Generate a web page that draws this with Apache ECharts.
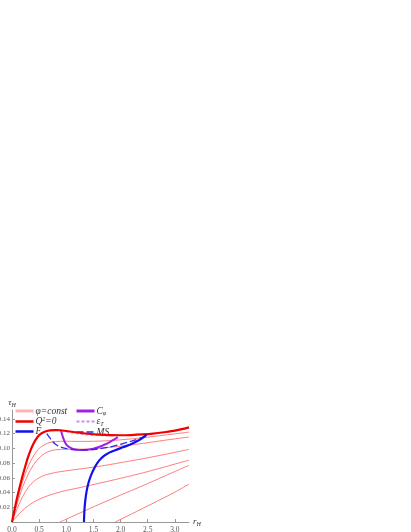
<!DOCTYPE html>
<html>
<head>
<meta charset="utf-8">
<script src="https://cdn.jsdelivr.net/npm/echarts@6/dist/echarts.min.js"></script>
<style>html,body{margin:0;padding:0;background:#fff}#c{width:411px;height:532px}</style>
</head>
<body>
<div id="c"></div>
<script>
// ---- data ----
const xTicks = [0, 0.5, 1.0, 1.5, 2.0, 2.5, 3.0];
const yTicks = [0.02, 0.04, 0.06, 0.08, 0.10, 0.12, 0.14];

const q2zero = [[0,0],[0.05,0.018],[0.1,0.035],[0.15,0.05],[0.2,0.064],[0.25,0.077],[0.3,0.089],[0.35,0.099],[0.4,0.107],[0.45,0.113],[0.5,0.118],[0.6,0.1225],[0.7,0.1243],[0.8,0.1248],[0.9,0.1245],[1.0,0.1235],[1.2,0.1215],[1.4,0.1198],[1.6,0.1185],[1.8,0.1178],[2.0,0.1177],[2.2,0.118],[2.4,0.1188],[2.6,0.12],[2.8,0.1218],[3.0,0.124],[3.26,0.1285]];

const phi1 = [[0,0],[0.1,0.03],[0.2,0.056],[0.3,0.076],[0.4,0.09],[0.5,0.1],[0.6,0.105],[0.7,0.108],[0.8,0.1092],[1.0,0.1096],[1.2,0.1094],[1.4,0.1094],[1.6,0.1098],[1.8,0.1105],[2.0,0.1115],[2.4,0.1143],[2.8,0.1178],[3.26,0.122]];
const phi2 = [[0,0],[0.1,0.026],[0.2,0.048],[0.3,0.065],[0.4,0.078],[0.5,0.087],[0.6,0.093],[0.7,0.0963],[0.8,0.098],[1.0,0.0988],[1.2,0.0988],[1.4,0.0991],[1.6,0.1],[1.8,0.1013],[2.0,0.103],[2.4,0.1066],[2.8,0.1108],[3.26,0.1154]];
const phi3 = [[0,0],[0.1,0.019],[0.2,0.035],[0.3,0.047],[0.4,0.055],[0.5,0.06],[0.6,0.0635],[0.8,0.0672],[1.0,0.0695],[1.2,0.0715],[1.6,0.0755],[2.0,0.0805],[2.4,0.0858],[2.8,0.0915],[3.26,0.0985]];
const phi4 = [[0,0],[0.2,0.016],[0.4,0.027],[0.6,0.034],[0.8,0.039],[1.0,0.0428],[1.3,0.0475],[1.6,0.0525],[2.0,0.0593],[2.4,0.0665],[2.8,0.0745],[3.26,0.084]];
const phi5 = [[0.88,0],[1.0,0.0039],[1.2,0.0105],[1.44,0.0185],[1.6,0.0238],[2.0,0.0365],[2.4,0.049],[2.8,0.062],[3.26,0.077]];
const phi6 = [[1.9,0],[2.0,0.0036],[2.2,0.0108],[2.6,0.0255],[3.0,0.0405],[3.26,0.0515]];

const fCurve = [[1.325,0],[1.328,0.006],[1.333,0.015],[1.344,0.025],[1.36,0.035],[1.385,0.046],[1.42,0.056],[1.47,0.066],[1.53,0.075],[1.6,0.083],[1.7,0.09],[1.8,0.0945],[1.9,0.0975],[2.0,0.1003],[2.1,0.103],[2.2,0.106],[2.3,0.1095],[2.4,0.1138],[2.48,0.1186]];
const cPhi = [[0.9,0.1245],[0.93,0.117],[0.97,0.109],[1.02,0.1035],[1.1,0.1],[1.2,0.0982],[1.3,0.0976],[1.4,0.0982],[1.5,0.0996],[1.6,0.1018],[1.7,0.1048],[1.8,0.1085],[1.9,0.1128],[1.95,0.1152]];
const epsT = [[0.9,0.1238],[1.0,0.1225],[1.1,0.1208],[1.3,0.1188],[1.5,0.1176],[1.7,0.117],[1.9,0.1168]];
const msCurve = [[0.64,0.12],[0.72,0.112],[0.8,0.1055],[0.9,0.1015],[1.0,0.0995],[1.2,0.0978],[1.4,0.0978],[1.6,0.0993],[1.8,0.1018],[2.0,0.1055],[2.2,0.1098],[2.4,0.1148],[2.48,0.1186]];

const phiSets = [phi1, phi2, phi3, phi4, phi5, phi6];

// ---- styles ----
const PHI_COLOR = '#ff6e6e';
const serif = '"Liberation Serif","DejaVu Serif",serif';

const labelsMap = {
  'phi': '{i|φ=const}',
  'Q2': '{i|Q}{sup|2}{i|=0}',
  'F': '{i|F}',
  'Cphi': '{i|C}{sub|φ}',
  'eT': '{i|ε}{sub|T}',
  'MS': '{i|MS}'
};
const legendRich = {
  i: {fontFamily: serif, fontStyle: 'italic', fontSize: 9.5, color: '#333'},
  sup: {fontFamily: serif, fontStyle: 'italic', fontSize: 6, color: '#333', verticalAlign: 'top', padding: [0,0,5,0]},
  sub: {fontFamily: serif, fontStyle: 'italic', fontSize: 6, color: '#333', padding: [5,0,0,0]}
};

const series = [];
phiSets.forEach(d => series.push({
  name: 'phi', type: 'line', data: d, showSymbol: false, symbol: 'none', smooth: 0.3,
  lineStyle: {color: PHI_COLOR, width: 0.9}, itemStyle: {color: PHI_COLOR}, z: 2, silent: true
}));
series.push({name: 'Q2', type: 'line', data: q2zero, symbol: 'none', smooth: 0.3,
  lineStyle: {color: '#f00000', width: 2.2}, itemStyle: {color: '#f00000'}, z: 5});
series.push({name: 'F', type: 'line', data: fCurve, symbol: 'none', smooth: 0.3,
  lineStyle: {color: '#1010f0', width: 2.2}, itemStyle: {color: '#1010f0'}, z: 6});
series.push({name: 'Cphi', type: 'line', data: cPhi, symbol: 'none', smooth: 0.3,
  lineStyle: {color: '#a020e8', width: 2}, itemStyle: {color: '#a020e8'}, z: 4});
series.push({name: 'eT', type: 'line', data: epsT, symbol: 'none', smooth: 0.3,
  lineStyle: {color: '#c890f0', width: 1, type: [3, 2]}, itemStyle: {color: '#c890f0'}, z: 4});
series.push({name: 'MS', type: 'line', data: msCurve, symbol: 'none', smooth: 0.3,
  lineStyle: {color: '#2a2af0', width: 1.3, type: [7, 3]}, itemStyle: {color: '#2a2af0'}, z: 4});

const legendBase = {
  orient: 'vertical', itemWidth: 18, itemHeight: 9.5, itemGap: 0, padding: 0,
  itemStyle: {opacity: 0},
  textStyle: {rich: legendRich, padding: [0,0,0,-3]},
  formatter: n => labelsMap[n], selectedMode: false
};

const chart = echarts.init(document.getElementById('c'), null, {renderer: 'canvas'});
chart.setOption({
  animation: false,
  backgroundColor: '#fff',
  grid: {left: 12, right: 222, top: 410, bottom: 10, containLabel: false, outerBoundsMode: 'none'},
  legend: [
    Object.assign({}, legendBase, {left: 14, top: 406, data: [
      {name: 'phi', lineStyle: {width: 3, color: '#ffb0b0'}}, {name: 'Q2', lineStyle: {width: 2.5}}, {name: 'F', lineStyle: {width: 2.5}}]}),
    Object.assign({}, legendBase, {left: 75, top: 406, data: [
      {name: 'Cphi', lineStyle: {width: 3}}, {name: 'eT'}, {name: 'MS', lineStyle: {width: 1.5}}]})
  ],
  xAxis: {
    type: 'value', min: 0, max: 3.26,
    name: '{a|r}{b|H}', nameLocation: 'end', nameGap: 4,
    nameTextStyle: {rich: {a: {fontFamily: serif, fontStyle: 'italic', fontSize: 9, color: '#333'}, b: {fontFamily: serif, fontStyle: 'italic', fontSize: 6, color: '#333', padding: [4,0,0,0]}}},
    axisLine: {lineStyle: {color: '#999', width: 1}},
    axisTick: {inside: true, length: 3, lineStyle: {color: '#999'}, customValues: xTicks},
    axisLabel: {customValues: xTicks, fontFamily: serif, fontSize: 7.5, color: '#555', margin: 4,
      formatter: v => v.toFixed(1)},
    splitLine: {show: false}
  },
  yAxis: {
    type: 'value', min: 0, max: 0.152,
    name: '{a|τ}{b|H}', nameLocation: 'end', nameGap: 2,
    nameTextStyle: {rich: {a: {fontFamily: serif, fontStyle: 'italic', fontSize: 9, color: '#333'}, b: {fontFamily: serif, fontStyle: 'italic', fontSize: 6, color: '#333', padding: [4,0,0,0]}}},
    axisLine: {lineStyle: {color: '#999', width: 1}},
    axisTick: {inside: true, length: 3, lineStyle: {color: '#999'}, customValues: yTicks},
    axisLabel: {customValues: yTicks, fontFamily: serif, fontSize: 7, color: '#555', margin: 2,
      formatter: v => v.toFixed(2)},
    splitLine: {show: false}
  },
  series: series
});
</script>
</body>
</html>
